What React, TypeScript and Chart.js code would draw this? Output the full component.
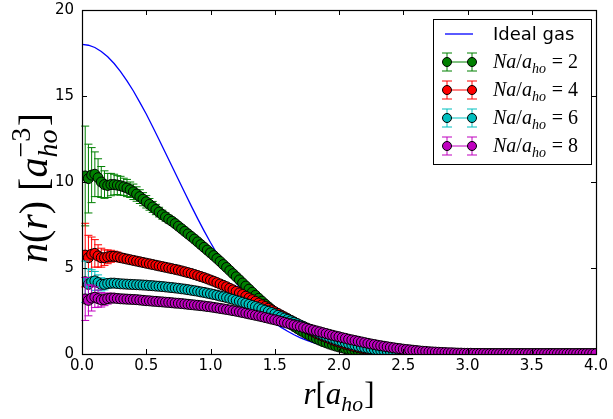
import { useEffect, useRef } from "react";
import { Chart, registerables } from "chart.js";

Chart.register(...registerables);

// ---------- data ----------
const R = [
  0.025, 0.05, 0.075, 0.1, 0.125, 0.15, 0.175, 0.2,
  0.225, 0.25, 0.275, 0.3, 0.325, 0.35, 0.375, 0.4,
  0.425, 0.45, 0.475, 0.5, 0.525, 0.55, 0.575, 0.6,
  0.625, 0.65, 0.675, 0.7, 0.725, 0.75, 0.775, 0.8,
  0.825, 0.85, 0.875, 0.9, 0.925, 0.95, 0.975, 1.0,
  1.025, 1.05, 1.075, 1.1, 1.125, 1.15, 1.175, 1.2,
  1.225, 1.25, 1.275, 1.3, 1.325, 1.35, 1.375, 1.4,
  1.425, 1.45, 1.475, 1.5, 1.525, 1.55, 1.575, 1.6,
  1.625, 1.65, 1.675, 1.7, 1.725, 1.75, 1.775, 1.8,
  1.825, 1.85, 1.875, 1.9, 1.925, 1.95, 1.975, 2.0,
  2.025, 2.05, 2.075, 2.1, 2.125, 2.15, 2.175, 2.2,
  2.225, 2.25, 2.275, 2.3, 2.325, 2.35, 2.375, 2.4,
  2.425, 2.45, 2.475, 2.5, 2.525, 2.55, 2.575, 2.6,
  2.625, 2.65, 2.675, 2.7, 2.725, 2.75, 2.775, 2.8,
  2.825, 2.85, 2.875, 2.9, 2.925, 2.95, 2.975, 3.0,
  3.025, 3.05, 3.075, 3.1, 3.125, 3.15, 3.175, 3.2,
  3.225, 3.25, 3.275, 3.3, 3.325, 3.35, 3.375, 3.4,
  3.425, 3.45, 3.475, 3.5, 3.525, 3.55, 3.575, 3.6,
  3.625, 3.65, 3.675, 3.7, 3.725, 3.75, 3.775, 3.8,
  3.825, 3.85, 3.875, 3.9, 3.925, 3.95, 3.975, 4.0,
];

const N2 = [
  10.35, 10.2, 10.4, 10.45, 10.25, 10.0, 9.85, 9.8,
  9.85, 9.85, 9.82, 9.78, 9.72, 9.65, 9.55, 9.43,
  9.3, 9.15, 9.0, 8.85, 8.7, 8.55, 8.4, 8.25,
  8.1, 7.97, 7.84, 7.72, 7.58, 7.43, 7.28, 7.13,
  6.98, 6.83, 6.68, 6.52, 6.36, 6.2, 6.04, 5.88,
  5.72, 5.55, 5.38, 5.2, 5.03, 4.85, 4.67, 4.49,
  4.31, 4.13, 3.95, 3.77, 3.59, 3.41, 3.24, 3.07,
  2.9, 2.74, 2.58, 2.42, 2.27, 2.12, 1.98, 1.85,
  1.72, 1.6, 1.48, 1.37, 1.26, 1.16, 1.06, 0.97,
  0.88, 0.8, 0.72, 0.65, 0.58, 0.52, 0.46, 0.41,
  0.36, 0.31, 0.27, 0.23, 0.2, 0.17, 0.14, 0.12,
  0.1, 0.08, 0.07, 0.05, 0.04, 0.03, 0.03, 0.02,
  0.02, 0.01, 0.01, 0, 0, 0, 0, 0,
  0, 0, 0, 0, 0, 0, 0, 0,
  0, 0, 0, 0, 0, 0, 0, 0,
  0, 0, 0, 0, 0, 0, 0, 0,
  0, 0, 0, 0, 0, 0, 0, 0,
  0, 0, 0, 0, 0, 0, 0, 0,
  0, 0, 0, 0, 0, 0, 0, 0,
  0, 0, 0, 0, 0, 0, 0, 0,
];

const N4 = [
  5.75, 5.6, 5.8, 5.85, 5.7, 5.6, 5.6, 5.65,
  5.68, 5.68, 5.65, 5.6, 5.56, 5.52, 5.48, 5.44,
  5.4, 5.36, 5.32, 5.28, 5.24, 5.2, 5.16, 5.12,
  5.08, 5.04, 5.0, 4.96, 4.92, 4.88, 4.83, 4.78,
  4.73, 4.68, 4.62, 4.56, 4.5, 4.44, 4.37, 4.3,
  4.23, 4.15, 4.07, 3.99, 3.91, 3.82, 3.73, 3.64,
  3.55, 3.46, 3.36, 3.26, 3.16, 3.06, 2.96, 2.86,
  2.76, 2.66, 2.56, 2.46, 2.36, 2.26, 2.16, 2.06,
  1.96, 1.86, 1.76, 1.66, 1.56, 1.47, 1.38, 1.29,
  1.2, 1.12, 1.04, 0.96, 0.89, 0.82, 0.75, 0.69,
  0.63, 0.57, 0.52, 0.47, 0.42, 0.38, 0.34, 0.3,
  0.27, 0.24, 0.21, 0.18, 0.16, 0.14, 0.12, 0.1,
  0.09, 0.08, 0.07, 0.06, 0.05, 0.04, 0.03, 0.03,
  0.02, 0.02, 0.01, 0.01, 0, 0, 0, 0,
  0, 0, 0, 0, 0, 0, 0, 0,
  0, 0, 0, 0, 0, 0, 0, 0,
  0, 0, 0, 0, 0, 0, 0, 0,
  0, 0, 0, 0, 0, 0, 0, 0,
  0, 0, 0, 0, 0, 0, 0, 0,
  0, 0, 0, 0, 0, 0, 0, 0,
];

const N6 = [
  4.2, 4.05, 4.2, 4.25, 4.15, 4.05, 4.05, 4.1,
  4.12, 4.12, 4.1, 4.08, 4.07, 4.06, 4.05, 4.04,
  4.03, 4.02, 4.01, 4.0, 3.98, 3.97, 3.95, 3.94,
  3.92, 3.9, 3.88, 3.86, 3.84, 3.82, 3.79, 3.77,
  3.74, 3.71, 3.68, 3.65, 3.61, 3.58, 3.54, 3.5,
  3.46, 3.42, 3.37, 3.33, 3.28, 3.23, 3.18, 3.12,
  3.07, 3.01, 2.95, 2.89, 2.82, 2.76, 2.69, 2.62,
  2.55, 2.48, 2.41, 2.33, 2.25, 2.17, 2.09, 2.01,
  1.93, 1.85, 1.76, 1.68, 1.6, 1.51, 1.43, 1.35,
  1.27, 1.19, 1.11, 1.04, 0.97, 0.9, 0.83, 0.77,
  0.71, 0.65, 0.6, 0.55, 0.5, 0.45, 0.41, 0.37,
  0.33, 0.3, 0.27, 0.24, 0.21, 0.19, 0.17, 0.15,
  0.13, 0.11, 0.1, 0.09, 0.08, 0.07, 0.06, 0.05,
  0.04, 0.04, 0.03, 0.03, 0.02, 0.02, 0.02, 0.01,
  0.01, 0.01, 0, 0, 0, 0, 0, 0,
  0, 0, 0, 0, 0, 0, 0, 0,
  0, 0, 0, 0, 0, 0, 0, 0,
  0, 0, 0, 0, 0, 0, 0, 0,
  0, 0, 0, 0, 0, 0, 0, 0,
  0, 0, 0, 0, 0, 0, 0, 0,
];

const N8 = [
  3.2, 3.12, 3.25, 3.3, 3.22, 3.15, 3.17, 3.22,
  3.25, 3.25, 3.23, 3.21, 3.2, 3.19, 3.18, 3.17,
  3.16, 3.14, 3.12, 3.1, 3.09, 3.07, 3.06, 3.04,
  3.03, 3.01, 3.0, 2.98, 2.96, 2.95, 2.93, 2.91,
  2.89, 2.87, 2.85, 2.83, 2.81, 2.79, 2.76, 2.74,
  2.71, 2.68, 2.65, 2.62, 2.59, 2.56, 2.52, 2.49,
  2.45, 2.41, 2.37, 2.33, 2.29, 2.25, 2.21, 2.17,
  2.12, 2.08, 2.03, 1.99, 1.94, 1.89, 1.84, 1.79,
  1.74, 1.69, 1.64, 1.59, 1.54, 1.49, 1.44, 1.39,
  1.34, 1.29, 1.24, 1.19, 1.14, 1.09, 1.04, 1.0,
  0.95, 0.91, 0.86, 0.82, 0.78, 0.74, 0.7, 0.66,
  0.62, 0.58, 0.55, 0.51, 0.48, 0.45, 0.42, 0.39,
  0.36, 0.33, 0.31, 0.28, 0.26, 0.24, 0.22, 0.2,
  0.18, 0.16, 0.15, 0.13, 0.12, 0.11, 0.1, 0.09,
  0.08, 0.07, 0.07, 0.06, 0.05, 0.05, 0.04, 0.04,
  0.04, 0.03, 0.03, 0.03, 0.03, 0.02, 0.02, 0.02,
  0.02, 0.02, 0.02, 0.02, 0.02, 0.02, 0.02, 0.02,
  0.02, 0.02, 0.02, 0.02, 0.02, 0.02, 0.02, 0.02,
  0.02, 0.02, 0.02, 0.02, 0.02, 0.02, 0.02, 0.02,
  0.02, 0.02, 0.02, 0.02, 0.02, 0.02, 0.02, 0.02,
];

const ERR2 = [2.9, 2.0, 1.6, 1.3, 1.1, 0.9, 0.8, 0.7, 0.65, 0.6, 0.55, 0.55, 0.5, 0.5, 0.45, 0.45, 0.42, 0.4, 0.38, 0.36, 0.34, 0.32, 0.3, 0.28, 0.26, 0.24, 0.22, 0.2];
const ERR4 = [1.85, 1.3, 1.0, 0.8, 0.65, 0.55, 0.45, 0.4, 0.35, 0.3, 0.28, 0.25, 0.22, 0.2, 0.18, 0.16, 0.15, 0.14, 0.13, 0.12];
const ERR6 = [1.2, 0.9, 0.7, 0.55, 0.45, 0.38, 0.32, 0.28, 0.25, 0.22, 0.2, 0.18, 0.16, 0.15, 0.14, 0.13];
const ERR8 = [1.25, 0.9, 0.75, 0.6, 0.5, 0.42, 0.36, 0.32, 0.28, 0.25, 0.22, 0.2, 0.18, 0.16, 0.15, 0.14];

const IDEAL_R = [
  0, 0.05, 0.1, 0.15, 0.2, 0.25, 0.3, 0.35, 0.4, 0.45, 0.5, 0.55, 0.6, 0.65, 0.7, 0.75, 0.8,
  0.85, 0.9, 0.95, 1.0, 1.05, 1.1, 1.15, 1.2, 1.25, 1.3, 1.35, 1.4, 1.45, 1.5, 1.55, 1.6,
  1.65, 1.7, 1.75, 1.8, 1.85, 1.9, 1.95, 2.0, 2.1, 2.2, 2.3, 2.4, 2.5, 2.6, 2.8, 3.0, 3.5, 4.0,
];
const IDEAL_N = [
  18.0, 17.95, 17.82, 17.59, 17.28, 16.89, 16.42, 15.88, 15.29, 14.63, 13.95, 13.21, 12.46, 11.69, 10.92, 10.14, 9.37,
  8.61, 7.87, 7.16, 6.48, 5.84, 5.23, 4.66, 4.14, 3.66, 3.21, 2.8, 2.44, 2.11, 1.81, 1.55, 1.32,
  1.12, 0.94, 0.79, 0.66, 0.55, 0.45, 0.37, 0.3, 0.2, 0.13, 0.08, 0.05, 0.03, 0.02, 0.01, 0, 0, 0,
];

const X_TICKS = [0, 0.5, 1.0, 1.5, 2.0, 2.5, 3.0, 3.5, 4.0];
const X_TICK_LABELS = ["0.0", "0.5", "1.0", "1.5", "2.0", "2.5", "3.0", "3.5", "4.0"];
const Y_TICKS = [0, 5, 10, 15, 20];
const Y_TICK_LABELS = ["0", "5", "10", "15", "20"];
const SERIES_LABELS = ["2", "4", "6", "8"];
const IDEAL_LABEL = "Ideal gas";

const C_GREEN = "#008000";
const C_RED = "#ff0000";
const C_CYAN = "#00bfbf";
const C_MAG = "#bf00bf";
const C_BLUE = "#0000ff";

// ---------- rich (math-like) text ----------
type Run = { t?: string; it?: boolean; sub?: string; sup?: string };
const SERIF = "'Liberation Serif', 'DejaVu Serif', serif";

function fontOf(size: number, it: boolean, fam: string) {
  return `${it ? "italic " : ""}${size}px ${fam}`;
}
function runsWidth(ctx: CanvasRenderingContext2D, runs: Run[], size: number, fam: string) {
  let w = 0;
  for (const r of runs) {
    if (r.t !== undefined) {
      ctx.font = fontOf(size, !!r.it, fam);
      w += ctx.measureText(r.t).width;
    } else {
      const s = size * 0.7;
      let a = 0, b = 0;
      if (r.sub) { ctx.font = fontOf(s, true, fam); a = ctx.measureText(r.sub).width; }
      if (r.sup) { ctx.font = fontOf(s, false, fam); b = ctx.measureText(r.sup).width; }
      w += Math.max(a, b) + size * 0.04;
    }
  }
  return w;
}
function drawRuns(ctx: CanvasRenderingContext2D, runs: Run[], x: number, y: number, size: number, fam: string) {
  let cx = x;
  ctx.textAlign = "left";
  ctx.textBaseline = "alphabetic";
  for (const r of runs) {
    if (r.t !== undefined) {
      ctx.font = fontOf(size, !!r.it, fam);
      ctx.fillText(r.t, cx, y);
      cx += ctx.measureText(r.t).width;
    } else {
      const s = size * 0.7;
      let a = 0, b = 0;
      if (r.sub) {
        ctx.font = fontOf(s, true, fam);
        ctx.fillText(r.sub, cx, y + size * 0.24);
        a = ctx.measureText(r.sub).width;
      }
      if (r.sup) {
        ctx.font = fontOf(s, false, fam);
        ctx.fillText(r.sup, cx, y - size * 0.42);
        b = ctx.measureText(r.sup).width;
      }
      cx += Math.max(a, b) + size * 0.04;
    }
  }
}

const X_LABEL: Run[] = [{ t: "r", it: true }, { t: "[" }, { t: "a", it: true }, { sub: "ho" }, { t: "]" }];
const Y_LABEL: Run[] = [
  { t: "n", it: true }, { t: "(" }, { t: "r", it: true }, { t: ")" }, { t: " [" },
  { t: "a", it: true }, { sub: "ho", sup: "\u22123" }, { t: "]" },
];
function legendRuns(v: string): Run[] {
  return [{ t: "Na", it: true }, { t: "/" }, { t: "a", it: true }, { sub: "ho" }, { t: " = " + v }];
}

// ---------- plugins ----------
const MARKER_R = 5;

const errorBarPlugin = {
  id: "errbars",
  beforeDatasetDraw(chart: any, args: any) {
    const ds: any = chart.data.datasets[args.index];
    if (!ds.errors) return;
    const ctx: CanvasRenderingContext2D = chart.ctx;
    const xs = chart.scales.x;
    const ys = chart.scales.y;
    ctx.save();
    ctx.strokeStyle = ds.errColor;
    ctx.lineWidth = 1;
    ds.errors.forEach((e: number, i: number) => {
      const p = ds.data[i];
      const px = xs.getPixelForValue(p.x);
      const top = ys.getPixelForValue(p.y + e);
      const bot = ys.getPixelForValue(p.y - e);
      ctx.beginPath();
      ctx.moveTo(px, top);
      ctx.lineTo(px, bot);
      ctx.moveTo(px - 4, top);
      ctx.lineTo(px + 4, top);
      ctx.moveTo(px - 4, bot);
      ctx.lineTo(px + 4, bot);
      ctx.stroke();
    });
    ctx.restore();
  },
};

function marker(ctx: CanvasRenderingContext2D, x: number, y: number, color: string) {
  ctx.beginPath();
  ctx.arc(x, y, 4.5, 0, Math.PI * 2);
  ctx.fillStyle = color;
  ctx.fill();
  ctx.strokeStyle = "#000";
  ctx.lineWidth = 1;
  ctx.stroke();
}

const framePlugin = {
  id: "frame",
  afterDatasetsDraw(chart: any) {
    const ctx: CanvasRenderingContext2D = chart.ctx;
    const { left, right, top, bottom } = chart.chartArea;
    const xs = chart.scales.x;
    const ys = chart.scales.y;
    ctx.save();
    // spines
    ctx.strokeStyle = "#000";
    ctx.lineWidth = 1.2;
    ctx.strokeRect(Math.round(left) + 0.5, Math.round(top) + 0.5, Math.round(right - left), Math.round(bottom - top));
    // ticks (inside, all four sides)
    ctx.lineWidth = 1;
    ctx.beginPath();
    X_TICKS.forEach((v) => {
      const px = Math.round(xs.getPixelForValue(v)) + 0.5;
      ctx.moveTo(px, bottom);
      ctx.lineTo(px, bottom - 5);
      ctx.moveTo(px, top);
      ctx.lineTo(px, top + 5);
    });
    Y_TICKS.forEach((v) => {
      const py = Math.round(ys.getPixelForValue(v)) + 0.5;
      ctx.moveTo(left, py);
      ctx.lineTo(left + 5, py);
      ctx.moveTo(right, py);
      ctx.lineTo(right - 5, py);
    });
    ctx.stroke();
    // tick labels
    ctx.fillStyle = "#000";
    ctx.font = "15px 'DejaVu Sans'";
    ctx.textAlign = "center";
    ctx.textBaseline = "top";
    X_TICKS.forEach((v, i) => ctx.fillText(X_TICK_LABELS[i], xs.getPixelForValue(v), bottom + 5));
    ctx.textAlign = "right";
    ctx.textBaseline = "middle";
    Y_TICKS.forEach((v, i) => ctx.fillText(Y_TICK_LABELS[i], left - 8, ys.getPixelForValue(v)));

    // axis labels
    const xsz = 31;
    const wx = runsWidth(ctx, X_LABEL, xsz, SERIF);
    drawRuns(ctx, X_LABEL, (left + right) / 2 - wx / 2, 404, xsz, SERIF);
    const ysz = 40;
    const wy = runsWidth(ctx, Y_LABEL, ysz, SERIF);
    ctx.save();
    ctx.translate(47, (top + bottom) / 2 + 6);
    ctx.rotate(-Math.PI / 2);
    drawRuns(ctx, Y_LABEL, -wy / 2, 0, ysz, SERIF);
    ctx.restore();

    // legend
    const bx = 433, by = 19, bw = 158, bh = 145;
    ctx.fillStyle = "#fff";
    ctx.fillRect(bx, by, bw, bh);
    ctx.strokeStyle = "#000";
    ctx.lineWidth = 1;
    ctx.strokeRect(bx + 0.5, by + 0.5, bw, bh);
    const rows = [34, 62, 90, 118, 146];
    ctx.strokeStyle = C_BLUE;
    ctx.lineWidth = 1.3;
    ctx.beginPath();
    ctx.moveTo(445, rows[0]);
    ctx.lineTo(473, rows[0]);
    ctx.stroke();
    ctx.fillStyle = "#000";
    ctx.font = "18px 'DejaVu Sans'";
    ctx.textAlign = "left";
    ctx.textBaseline = "middle";
    ctx.fillText(IDEAL_LABEL, 493, rows[0] + 1);
    const cols = [C_GREEN, C_RED, C_CYAN, C_MAG];
    SERIES_LABELS.forEach((lab, k) => {
      const y = rows[k + 1];
      const c = cols[k];
      ctx.strokeStyle = c;
      ctx.lineWidth = 1;
      ctx.beginPath();
      ctx.moveTo(447, y);
      ctx.lineTo(472, y);
      [447, 472].forEach((mx) => {
        ctx.moveTo(mx, y - 9);
        ctx.lineTo(mx, y + 9);
        ctx.moveTo(mx - 5, y - 9);
        ctx.lineTo(mx + 5, y - 9);
        ctx.moveTo(mx - 5, y + 9);
        ctx.lineTo(mx + 5, y + 9);
      });
      ctx.stroke();
      marker(ctx, 447, y, c);
      marker(ctx, 472, y, c);
      ctx.fillStyle = "#000";
      drawRuns(ctx, legendRuns(lab), 493, y + 6, 20, SERIF);
    });
    ctx.restore();
  },
};

// ---------- component ----------
function series(values: number[], errors: number[], color: string, order: number) {
  return {
    data: R.map((x, i) => ({ x, y: values[i] })),
    errors,
    errColor: color,
    borderColor: color,
    borderWidth: 1,
    backgroundColor: color,
    pointBackgroundColor: color,
    pointBorderColor: "#000",
    pointBorderWidth: 1,
    pointRadius: MARKER_R,
    pointHoverRadius: MARKER_R,
    tension: 0,
    order,
  };
}

export default function App() {
  const ref = useRef<HTMLCanvasElement | null>(null);
  useEffect(() => {
    if (!ref.current) return;
    const chart = new Chart(ref.current, {
      type: "line",
      data: {
        datasets: [
          {
            data: IDEAL_R.map((x, i) => ({ x, y: IDEAL_N[i] })),
            borderColor: C_BLUE,
            borderWidth: 1.3,
            pointRadius: 0,
            tension: 0,
            order: 5,
          } as any,
          series(N2, ERR2, C_GREEN, 4) as any,
          series(N4, ERR4, C_RED, 3) as any,
          series(N6, ERR6, C_CYAN, 2) as any,
          series(N8, ERR8, C_MAG, 1) as any,
        ],
      },
      options: {
        responsive: false,
        maintainAspectRatio: false,
        animation: false,
        events: [],
        layout: { padding: { left: 82, right: 17, top: 10, bottom: 65 } },
        scales: {
          x: { type: "linear", min: 0, max: 4, display: false },
          y: { type: "linear", min: 0, max: 20, display: false },
        },
        plugins: { legend: { display: false }, tooltip: { enabled: false } },
      },
      plugins: [errorBarPlugin, framePlugin],
    });
    return () => chart.destroy();
  }, []);
  return (
    <div style={{ position: "fixed", left: 0, top: 0, width: 613, height: 419, background: "#fff" }}>
      <canvas ref={ref} width={613} height={419} style={{ width: 613, height: 419 }} />
    </div>
  );
}
